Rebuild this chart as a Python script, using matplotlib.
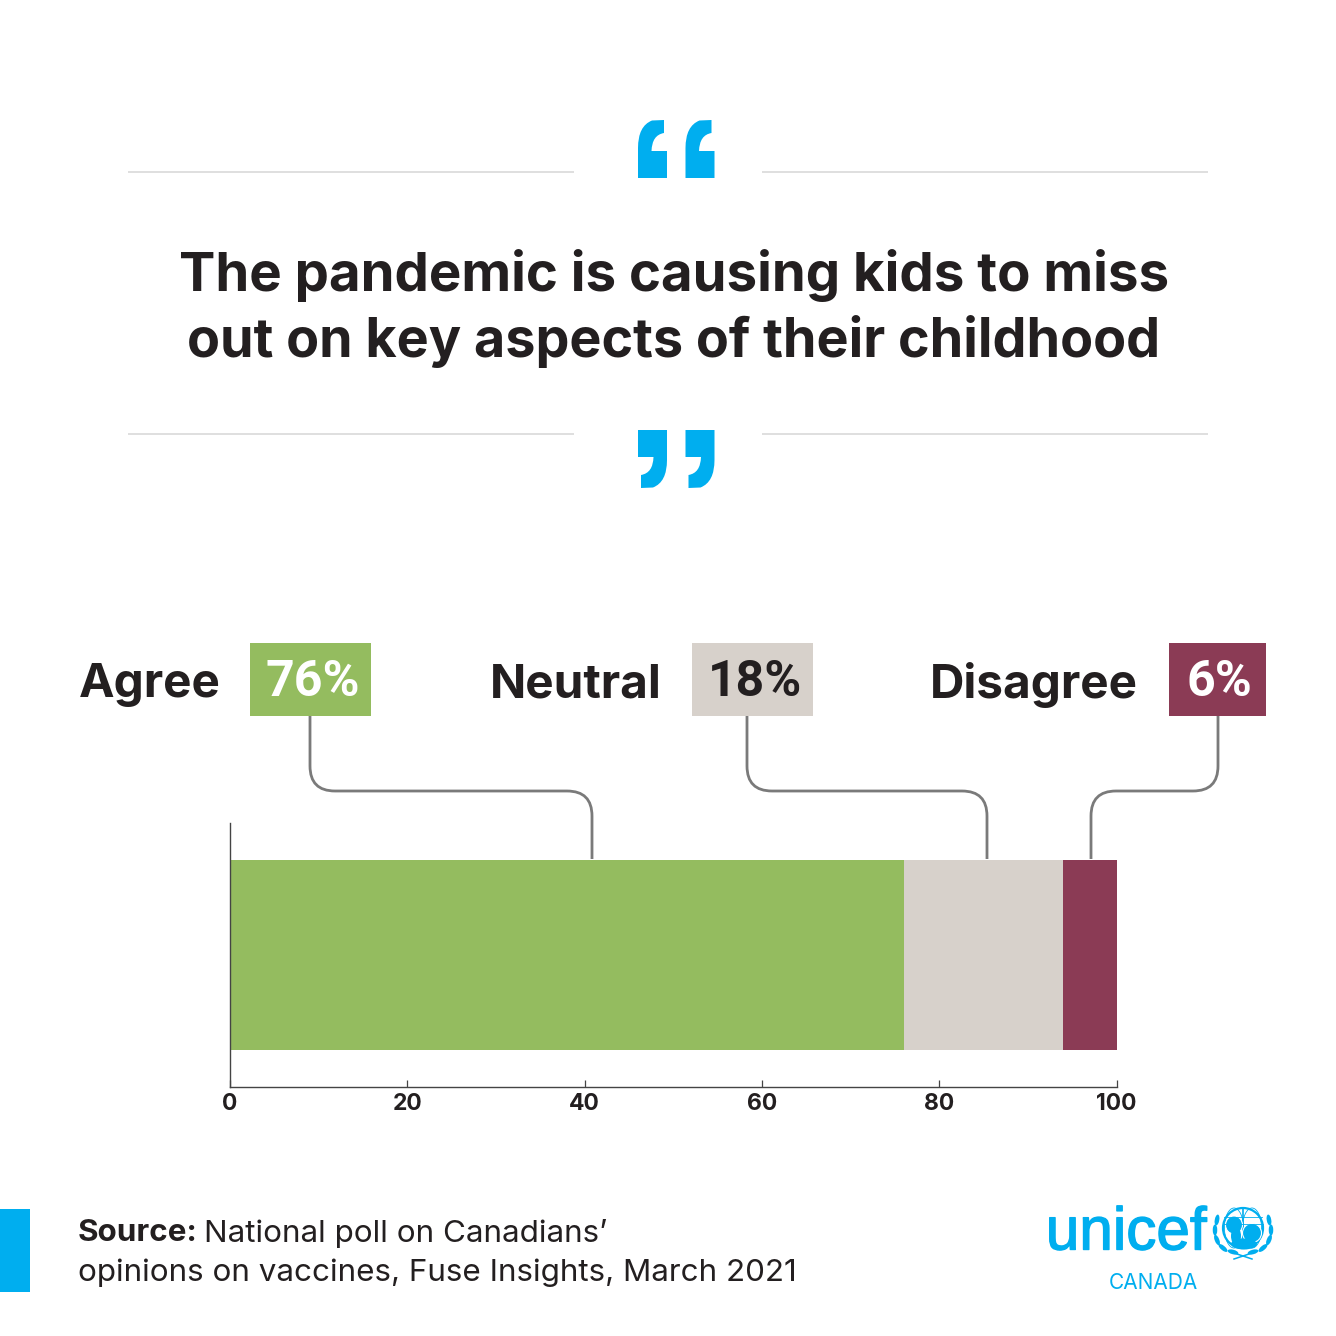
#!/usr/bin/env python
import matplotlib as mpl
mpl.use('Agg')
import matplotlib.pyplot as plt
import matplotlib.patheffects as pe
from matplotlib.path import Path
from matplotlib.patches import PathPatch, Rectangle, Circle, Ellipse

plt.rcParams['font.family'] = ['Inter', 'DejaVu Sans']

CATEGORIES = ['Agree', 'Neutral', 'Disagree']
VALUES = [76, 18, 6]
COLORS = ['#94BC5F', '#D7D1CB', '#8B3B55']
LABEL_COLORS = ['white', '#231F20', 'white']
XTICKS = [0, 20, 40, 60, 80, 100]
TITLE = ['The pandemic is causing kids to miss', 'out on key aspects of their childhood']

CYAN = '#00AEEF'
DARK = '#231F20'
W = 1336


def rounded(ax, x0, y0, x1, y1, ymid, r=25):
    # vertical, horizontal, vertical with rounded corners (pixel coords)
    sx = 1 if x1 > x0 else -1
    verts = [(x0, y0), (x0, ymid - r), (x0, ymid), (x0 + sx * r, ymid),
             (x1 - sx * r, ymid), (x1, ymid), (x1, ymid + r), (x1, y1)]
    codes = [Path.MOVETO, Path.LINETO, Path.CURVE3, Path.CURVE3,
             Path.LINETO, Path.CURVE3, Path.CURVE3, Path.LINETO]
    ax.add_patch(PathPatch(Path(verts, codes), fc='none', ec='#7A7A7A', lw=2.0, capstyle='butt'))


def open_quote(ax, x, y):
    verts = [(x, y + 58), (x, y + 28), (x, y + 6), (x + 14, y + 0.5), (x + 26, y), (x + 26, y + 13),
             (x + 14, y + 15), (x + 13.5, y + 31), (x + 29, y + 31), (x + 29, y + 58), (x, y + 58)]
    codes = [Path.MOVETO, Path.LINETO, Path.CURVE3, Path.CURVE3, Path.LINETO, Path.LINETO,
             Path.CURVE3, Path.CURVE3, Path.LINETO, Path.LINETO, Path.CLOSEPOLY]
    ax.add_patch(PathPatch(Path(verts, codes), fc=CYAN, ec='none'))


def close_quote(ax, x, y):
    verts = [(x + 29, y), (x + 29, y + 30), (x + 29, y + 52), (x + 15, y + 57.5), (x + 3, y + 58), (x + 3, y + 45),
             (x + 15, y + 43), (x + 15.5, y + 27), (x, y + 27), (x, y), (x + 29, y)]
    codes = [Path.MOVETO, Path.LINETO, Path.CURVE3, Path.CURVE3, Path.LINETO, Path.LINETO,
             Path.CURVE3, Path.CURVE3, Path.LINETO, Path.LINETO, Path.CLOSEPOLY]
    ax.add_patch(PathPatch(Path(verts, codes), fc=CYAN, ec='none'))


def emblem(ax, cx, cy):
    # globe, two heads and a wreath, roughly
    ax.add_patch(Circle((cx, cy - 3), 20, fc='white', ec=CYAN, lw=1.6))
    for dx in (-9, 0, 9):
        ax.add_patch(Ellipse((cx + dx, cy - 3), 2 * abs(dx) + 1, 40, fc='none', ec=CYAN, lw=0.6))
    ax.plot([cx - 19, cx + 19], [cy - 14, cy - 14], color=CYAN, lw=0.6)
    ax.plot([cx - 20, cx + 20], [cy - 7, cy - 7], color=CYAN, lw=0.6)
    ax.add_patch(Ellipse((cx - 9, cy - 6), 17, 18, fc=CYAN, ec='white', lw=0.8))
    ax.add_patch(Ellipse((cx + 9, cy + 2), 19, 19, fc=CYAN, ec='white', lw=0.8))
    ax.add_patch(Ellipse((cx + 1, cy + 13), 26, 11, fc=CYAN, ec='none'))
    ax.add_patch(Ellipse((cx - 7, cy + 5), 10, 18, fc=CYAN, ec='none'))
    for sx in (-1, 1):
        for dx, dy, ang in [(26, -11, 10), (28, -1, 0), (26, 9, -22), (20, 17, -50), (10, 21, -75)]:
            ax.add_patch(Ellipse((cx + sx * dx, cy + dy), 4.5, 11, angle=sx * -ang, fc=CYAN, ec='none'))
    ax.plot([cx - 9, cx + 9], [cy + 22, cy + 28], color=CYAN, lw=1.1)
    ax.plot([cx + 9, cx - 9], [cy + 22, cy + 28], color=CYAN, lw=1.1)


fig = plt.figure(figsize=(W / 100, W / 100), dpi=100, facecolor='white')

# bar chart
ax = fig.add_axes([230 / W, 1 - 1087 / W, (1116.5 - 230) / W, (1087 - 823) / W])
left = 0
for value, color in zip(VALUES, COLORS):
    ax.barh(0.5, value, left=left, height=0.72, color=color, linewidth=0)
    left += value
ax.set_xlim(0, 100)
ax.set_ylim(0, 1)
ax.set_yticks([])
ax.set_xticks(XTICKS)
ax.tick_params(axis='x', direction='in', length=5, width=0.9, color='#444444', pad=4, labelsize=16.5, labelcolor=DARK)
for t in ax.get_xticklabels():
    t.set_fontweight('bold')
for s in ['top', 'right']:
    ax.spines[s].set_visible(False)
for s in ['left', 'bottom']:
    ax.spines[s].set_linewidth(1.0)
    ax.spines[s].set_color('#444444')
ax.patch.set_alpha(0)

# everything else is placed in pixel coords on an overlay
ov = fig.add_axes([0, 0, 1, 1], zorder=3)
ov.set_xlim(0, W)
ov.set_ylim(W, 0)
ov.axis('off')

for y in (172, 434):
    ov.plot([128, 574], [y, y], color='#DCDCDC', lw=1.3, solid_capstyle='butt')
    ov.plot([762, 1208], [y, y], color='#DCDCDC', lw=1.3, solid_capstyle='butt')
open_quote(ov, 638, 120)
open_quote(ov, 685.5, 120)
close_quote(ov, 638, 430)
close_quote(ov, 685.5, 430)

ov.text(674, 275, TITLE[0], fontsize=39.3, fontweight='bold', color=DARK, ha='center', va='center')
ov.text(674, 342, TITLE[1], fontsize=38.8, fontweight='bold', color=DARK, ha='center', va='center')

boxes = [(250, 371), (692, 813), (1169, 1266)]
name_right = [221, 662, 1138]
for name, value, color, tc, (x0, x1), nr in zip(CATEGORIES, VALUES, COLORS, LABEL_COLORS, boxes, name_right):
    ov.add_patch(Rectangle((x0, 643), x1 - x0, 73, fc=color, ec='none'))
    ov.text((x0 + x1) / 2 + 2, 682, '%d%%' % value, fontsize=36, fontweight='bold', color=tc,
            ha='center', va='center', family=['Roboto', 'DejaVu Sans'])
    ov.text(nr, 685, name, fontsize=34.3, fontweight='bold', color=DARK, ha='right', va='center')

rounded(ov, 310, 716, 592, 859, 791)
rounded(ov, 747, 716, 987, 859, 791)
rounded(ov, 1218, 716, 1091, 859, 791)

# footer
ov.add_patch(Rectangle((0, 1209), 30, 83, fc=CYAN, ec='none'))
ov.text(78, 1233, 'Source:', fontsize=22.6, fontweight='bold', color=DARK, va='center')
ov.text(204, 1233, 'National poll on Canadians\u2019', fontsize=22.6, color=DARK, va='center')
ov.text(78, 1273, 'opinions on vaccines, Fuse Insights, March 2021', fontsize=22.6, color=DARK, va='center')

# logo
logo = ov.text(1126, 1234, 'unicef', fontsize=43.4, color=CYAN, ha='center', va='center',
               family=['Liberation Sans', 'DejaVu Sans'])
logo.set_path_effects([pe.withStroke(linewidth=1.0, foreground=CYAN)])
ov.text(1153, 1283, 'CANADA', fontsize=15, color=CYAN, ha='center', va='center')
emblem(ov, 1243, 1231)

fig.savefig('out.png', dpi=100, facecolor='white')
